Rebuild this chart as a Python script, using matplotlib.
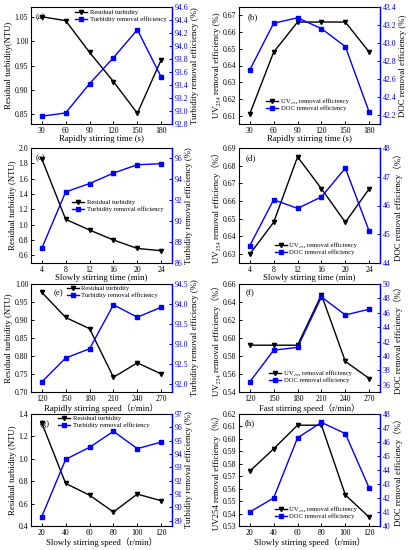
import matplotlib
matplotlib.use("Agg")
import matplotlib.pyplot as plt

plt.rcParams["font.family"] = ["Liberation Serif", "DejaVu Serif", "Noto Sans CJK SC"]

BLUE = "#0000ff"

# --- data --------------------------------------------------------------------
rapid_time = [30, 60, 90, 120, 150, 180]
slow_time = [4, 8, 12, 16, 20, 24]
rapid_speed = [120, 150, 180, 210, 240, 270]
slow_speed = [20, 40, 60, 80, 100, 120]

a_turb = [1.050, 1.042, 0.977, 0.917, 0.852, 0.962]
a_eff = [92.92, 92.97, 93.42, 93.82, 94.25, 93.52]
b_uv = [0.611, 0.648, 0.666, 0.666, 0.666, 0.648]
b_doc = [42.70, 43.22, 43.28, 43.16, 42.96, 42.23]

c_turb = [1.86, 1.07, 0.93, 0.80, 0.69, 0.66]
c_eff = [87.4, 92.8, 93.6, 94.6, 95.4, 95.5]
d_uv = [0.630, 0.648, 0.685, 0.667, 0.648, 0.667]
d_doc = [44.6, 46.2, 45.9, 46.3, 47.3, 45.1]

e_turb = [0.977, 0.907, 0.876, 0.741, 0.781, 0.750]
e_eff = [92.05, 92.65, 92.88, 93.98, 93.67, 93.92]
f_uv = [0.592, 0.592, 0.592, 0.648, 0.574, 0.555]
f_doc = [36.4, 40.8, 41.2, 48.2, 45.7, 46.5]

g_turb = [1.32, 0.78, 0.675, 0.525, 0.685, 0.625]
g_eff = [89.3, 93.6, 94.5, 95.7, 94.4, 94.9]
h_uv = [0.574, 0.592, 0.611, 0.611, 0.555, 0.537]
h_doc = [41.0, 42.0, 46.3, 47.4, 46.6, 42.7]

UV_LAB = "UV\u2082\u2085\u2084 removal efficiency"
DOC_LAB = "DOC removal efficiency"
TURB_NAMES = ("Residual turbidity", "Turbidity removal efficiency")

# (tag, tag x, x, left, right, xlabel, ylabel L, ylabel R, legend names,
#  left ylim, left ticks, fmt, right ylim, right ticks, fmt, legend placement)
panels = [
    ("(a)", 0.03, rapid_time, a_turb, a_eff, "Rapidly stirring time (s)",
     "Residual turbidity(NTU)", "Turbidity removal efficiency (%)", TURB_NAMES,
     (0.83, 1.07), [0.85, 0.90, 0.95, 1.00, 1.05], "%.2f",
     (92.8, 94.6), [92.8 + 0.2 * i for i in range(10)], "%.1f",
     dict(loc="upper left", bbox_to_anchor=(0.28, 1.02))),
    ("(b)", 0.06, rapid_time, b_uv, b_doc, "Rapidly stirring time (s)",
     "UV\u2082\u2085\u2084 removal efficiency (%)", "DOC removal efficiency (%)",
     (UV_LAB, DOC_LAB),
     (0.605, 0.675), [0.61, 0.62, 0.63, 0.64, 0.65, 0.66, 0.67], "%.2f",
     (42.1, 43.4), [42.2, 42.4, 42.6, 42.8, 43.0, 43.2, 43.4], "%.1f",
     dict(loc="lower left", bbox_to_anchor=(0.16, 0.07))),
    ("(c)", 0.03, slow_time, c_turb, c_eff, "Slowly stirring time (min)",
     "Residual turbidity (NTU)", "Turbidity removal efficiency (%)", TURB_NAMES,
     (0.5, 2.0), [0.6, 0.8, 1.0, 1.2, 1.4, 1.6, 1.8, 2.0], "%.1f",
     (86, 97), [86, 88, 90, 92, 94, 96], "%d",
     dict(loc="center left", bbox_to_anchor=(0.26, 0.5))),
    ("(d)", 0.05, slow_time, d_uv, d_doc, "Slowly stirring time (min)",
     "UV\u2082\u2085\u2084 removal efficiency\uff08%\uff09",
     "DOC removal efficiency\uff08%\uff09", (UV_LAB, DOC_LAB),
     (0.625, 0.69), [0.63, 0.64, 0.65, 0.66, 0.67, 0.68, 0.69], "%.2f",
     (44, 48), [44, 45, 46, 47, 48], "%d",
     dict(loc="lower left", bbox_to_anchor=(0.22, 0.03))),
    ("(e)", 0.16, rapid_speed, e_turb, e_eff, "Rapidly stirring speed\uff08r/min\uff09",
     "Residual turbidity (NTU)", "Turbidity removal efficiency (%)", TURB_NAMES,
     (0.70, 1.00), [0.70, 0.75, 0.80, 0.85, 0.90, 0.95, 1.00], "%.2f",
     (91.8, 94.5), [92.0, 92.5, 93.0, 93.5, 94.0, 94.5], "%.1f",
     dict(loc="upper left", bbox_to_anchor=(0.22, 1.03))),
    ("(f)", 0.05, rapid_speed, f_uv, f_doc, "Fast stirring speed\uff08r/min\uff09",
     "UV\u2082\u2085\u2084 removal efficiency\uff08%\uff09",
     "DOC removal efficiency\uff08%\uff09", (UV_LAB, DOC_LAB),
     (0.54, 0.66), [0.54, 0.56, 0.58, 0.60, 0.62, 0.64, 0.66], "%.2f",
     (35, 50), [36, 38, 40, 42, 44, 46, 48, 50], "%d",
     dict(loc="lower left", bbox_to_anchor=(0.18, 0.04))),
    ("(g)", 0.06, slow_speed, g_turb, g_eff, "Slowly stirring speed\uff08r/min\uff09",
     "Residual turbidity (NTU)", "Turbidity removal efficiency (%)", TURB_NAMES,
     (0.4, 1.4), [0.4, 0.6, 0.8, 1.0, 1.2, 1.4], "%.1f",
     (88.6, 97), [89, 90, 91, 92, 93, 94, 95, 96, 97], "%d",
     dict(loc="upper left", bbox_to_anchor=(0.16, 1.03))),
    ("(h)", 0.04, slow_speed, h_uv, h_doc, "Slowly stirring speed\uff08r/min\uff09",
     "UV254 removal efficiency\uff08%\uff09", "DOC removal efficiency\uff08%\uff09",
     (UV_LAB, DOC_LAB),
     (0.53, 0.62), [0.53, 0.54, 0.55, 0.56, 0.57, 0.58, 0.59, 0.60, 0.61, 0.62], "%.2f",
     (40, 48), [40, 41, 42, 43, 44, 45, 46, 47, 48], "%d",
     dict(loc="lower left", bbox_to_anchor=(0.22, 0.02))),
]

# axes boxes in pixels (left, right) / (top, bottom) on a 416x550 canvas
W, H = 416.0, 550.0
cols = [(31, 172), (239, 380)]
rows = [(7, 124), (148, 263), (284, 392), (414, 526)]

fig = plt.figure(figsize=(4.16, 5.5), dpi=100)

TICK_FS = 5.6
LAB_FS = 6.3
LEG_FS = 4.8

for i, p in enumerate(panels):
    (tag, tag_x, x, yl, yr, xlab, ylab_l, ylab_r, names, ylim_l, yt_l, fmt_l,
     ylim_r, yt_r, fmt_r, leg) = p
    c0, c1 = cols[i % 2]
    r0, r1 = rows[i // 2]
    ax = fig.add_axes([c0 / W, 1 - r1 / H, (c1 - c0) / W, (r1 - r0) / H])
    ax2 = ax.twinx()

    l1, = ax.plot(x, yl, color="black", marker="v", ms=3, lw=1.0)
    l2, = ax2.plot(x, yr, color=BLUE, marker="s", ms=2.6, lw=1.0)

    step = x[1] - x[0]
    ax.set_xticks(x)
    ax.set_xlim(x[0] - step * 0.45, x[-1] + step * 0.45)
    ax.set_ylim(*ylim_l)
    ax.set_yticks(yt_l)
    ax.set_yticklabels([fmt_l % v for v in yt_l])
    ax2.set_ylim(*ylim_r)
    ax2.set_yticks(yt_r)
    ax2.set_yticklabels([fmt_r % v for v in yt_r])

    ax.tick_params(direction="in", labelsize=TICK_FS, length=2, width=0.7, pad=2)
    ax2.tick_params(axis="y", direction="in", labelsize=TICK_FS, length=2,
                    width=0.7, pad=2, colors=BLUE)
    for s in ax.spines.values():
        s.set_linewidth(0.8)
    ax2.spines["right"].set_color(BLUE)
    ax2.spines["right"].set_linewidth(1.0)
    for s in ("left", "top", "bottom"):
        ax2.spines[s].set_visible(False)

    ax.set_xlabel(xlab, fontsize=LAB_FS, labelpad=0.5)
    ax.set_ylabel(ylab_l, fontsize=LAB_FS, labelpad=1)
    ax2.set_ylabel(ylab_r, fontsize=LAB_FS, labelpad=2, color="black")

    ax.text(tag_x, 0.95, tag, transform=ax.transAxes, fontsize=LAB_FS,
            va="top", ha="left")
    ax2.legend([l1, l2], names, fontsize=LEG_FS, frameon=False,
               handlelength=1.8, handletextpad=0.4, borderpad=0.2,
               labelspacing=0.2, **leg)

fig.savefig("out.png", dpi=100)
